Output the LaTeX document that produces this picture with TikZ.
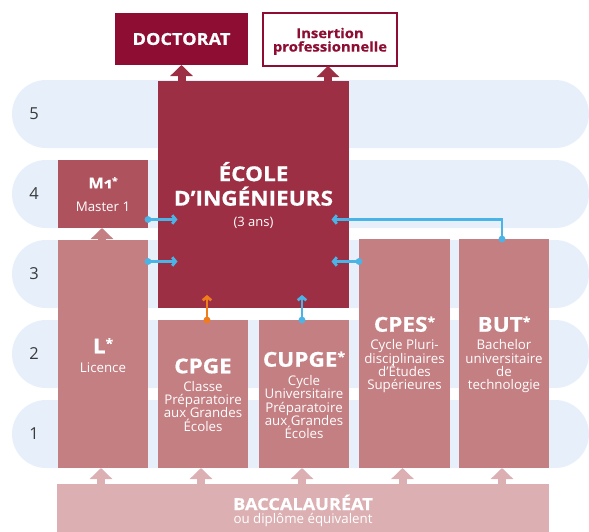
\documentclass[tikz,border=0pt]{standalone}
\usepackage{fontspec}
\usepackage{graphicx}
\setmainfont{Open Sans}
\newfontfamily\heavyfont{Open Sans}[FakeStretch=1.1, FakeBold=0.6]
\newcommand\mystar{\raisebox{0.27em}{\scalebox{0.62}{*}}}
\usetikzlibrary{arrows.meta,calc}
\definecolor{cBand}{HTML}{E7F0FA}
\definecolor{cDoc}{HTML}{8D0D33}
\definecolor{cEcole}{HTML}{9D2F45}
\definecolor{cM}{HTML}{AE535E}
\definecolor{cL}{HTML}{C47F83}
\definecolor{cBac}{HTML}{DCB0B3}
\definecolor{cBlue}{HTML}{4BB4E6}
\definecolor{cOrange}{HTML}{F07C1B}
\definecolor{cNum}{HTML}{3A3A3A}
\begin{document}
\lineskiplimit=-50pt
\begin{tikzpicture}[x=1pt,y=-1pt,
  box/.style={anchor=north west, inner sep=0pt, outer sep=0pt},
  band/.style={fill=cBand, rounded corners=34pt},
  num/.style={font=\fontsize{16.5}{18}\selectfont, text=cNum, inner sep=0pt},
  ttl/.style={font=\heavyfont\fontsize{20.5}{22}\selectfont\bfseries, text=white, inner sep=0pt, anchor=base},
  sub/.style={font=\fontsize{13.3}{13.3}\selectfont, text=white, inner sep=0pt, align=center, anchor=south},
  fat/.style={line width=8pt, -{Triangle[width=22pt,length=11pt]}},
  barrow/.style={draw=cBlue, line width=2.8pt, -{Straight Barb[length=3.5pt,width=8.5pt]}},
]
\useasboundingbox (0,0) rectangle (589,531);
% level bands
\foreach \t in {80,160,240,320,400} \fill[band] (12,\t) rectangle (589,\t+68);
\node[num] (n5) at (34,114) {5};
\node[num] (n4) at (34,194) {4};
\node[num] (n3) at (34,274) {3};
\node[num] (n2) at (34,354) {2};
\node[num] (n1) at (34,434) {1};
% boxes
\node[box, fill=cDoc, minimum width=133pt, minimum height=52pt, text=white,
      font=\heavyfont\fontsize{16.5}{18}\selectfont\bfseries] (doct) at (115,13) {DOCTORAT};
\node[box, fill=white, draw=cDoc, line width=1.3pt, minimum width=134pt, minimum height=53pt] (ins) at (263,13) {};
\node[box, fill=cEcole, minimum width=191pt, minimum height=227pt] (ecole) at (158,81) {};
\node[box, fill=cM, minimum width=90pt, minimum height=68pt] (m1) at (58,160) {};
\node[box, fill=cL, minimum width=90pt, minimum height=228pt] (lic) at (58,240) {};
\node[box, fill=cL, minimum width=90pt, minimum height=148pt] (cpge) at (158,320) {};
\node[box, fill=cL, minimum width=90pt, minimum height=148pt] (cupge) at (259,320) {};
\node[box, fill=cL, minimum width=91pt, minimum height=229pt] (cpes) at (359,239) {};
\node[box, fill=cL, minimum width=90pt, minimum height=229pt] (but) at (459,239) {};
\node[box, fill=cBac, minimum width=492pt, minimum height=50pt] (bac) at (57,484) {};
% fat arrows
\draw[fat, cEcole] (ecole.north -| doct.south) -- (doct.south);
\draw[fat, cEcole] ($(ecole.north -| ins.south)+(-2,0)$) -- ($(ins.south)+(-2,0)$);
\draw[fat, cL] ($(lic.north -| m1.south)+(-1,0)$) -- ($(m1.south)+(-1,0)$);
\foreach \n in {lic,cpge,cupge,cpes,but}
  \draw[fat, cBac] ($(bac.north -| \n.south)+(-2,0)$) -- ($(\n.south)+(-2,0)$);
% thin arrows
\coordinate (yA) at (0,219.5);
\coordinate (yB) at (0,261.5);
\draw[barrow] (m1.east |- yA) -- ($(ecole.west |- yA)+(19.5,0)$);
\fill[cBlue] (m1.east |- yA) circle (3.4);
\draw[barrow] (lic.east |- yB) -- ($(ecole.west |- yB)+(19.5,0)$);
\fill[cBlue] (lic.east |- yB) circle (3.4);
\draw[barrow] (cpes.west |- yB) -- ($(ecole.east |- yB)+(-17.5,0)$);
\fill[cBlue] (cpes.west |- yB) circle (3.4);
\draw[barrow] ($(but.north)+(-2,0)$) |- ($(ecole.east |- yA)+(-17.5,0)$);
\fill[cBlue] ($(but.north)+(-2,0)$) circle (3.4);
\draw[barrow, draw=cOrange] ($(cpge.north)+(4,0)$) -- ($(ecole.south -| cpge.north)+(4,-13)$);
\fill[cOrange] ($(cpge.north)+(4,0)$) circle (3.4);
\draw[barrow] ($(cupge.north)+(-2,0)$) -- ($(ecole.south -| cupge.north)+(-2,-13)$);
\fill[cBlue] ($(cupge.north)+(-2,0)$) circle (3.4);
% texts
\node[font=\heavyfont\fontsize{13.5}{13.5}\selectfont\bfseries, text=cDoc, align=center, anchor=south, inner sep=0pt] (insT) at (330,55) {Insertion\\professionnelle};
\node[font=\heavyfont\fontsize{20.5}{24.5}\selectfont\bfseries, text=white, align=center, anchor=south, inner sep=0pt] (ecoleT) at (253.5,206) {ÉCOLE\\D’INGÉNIEURS};
\node[sub, anchor=base, font=\fontsize{13}{14}\selectfont] (ecoleS) at (253.5,226.5) {(3 ans)};
\node[ttl, font=\heavyfont\fontsize{15}{17}\selectfont\bfseries] (m1T) at (103,188.3) {M{\addfontfeatures{Numbers=OldStyle}1}\mystar};
\node[sub, anchor=base] (m1S) at (103,211) {Master 1};
\node[ttl] (licT) at (103,353.3) {L\mystar};
\node[sub, anchor=base] (licS) at (103,372) {Licence};
\node[ttl] (cpgeT) at (203,373.3) {CPGE};
\node[sub] (cpgeS) at (203,431.6) {Classe\\Préparatoire\\aux Grandes\\Écoles};
\node[ttl] (cupgeT) at (304,366.7) {CUPGE\mystar};
\node[sub] (cupgeS) at (304,439) {Cycle\\Universitaire\\Préparatoire\\aux Grandes\\Écoles};
\node[ttl] (cpesT) at (404.5,331.7) {CPES\mystar};
\node[sub] (cpesS) at (404.5,393) {Cycle Pluri-\\disciplinaires\\d’Études\\Supérieures};
\node[ttl] (butT) at (504,331.7) {BUT\mystar};
\node[sub] (butS) at (504,393) {Bachelor\\universitaire\\de\\technologie};
\node[ttl, font=\heavyfont\fontsize{16.5}{18}\selectfont\bfseries] (bacT) at (303,510) {BACCALAURÉAT};
\node[sub, anchor=base] (bacS) at (303,523.5) {ou diplôme équivalent};
\end{tikzpicture}
\end{document}
